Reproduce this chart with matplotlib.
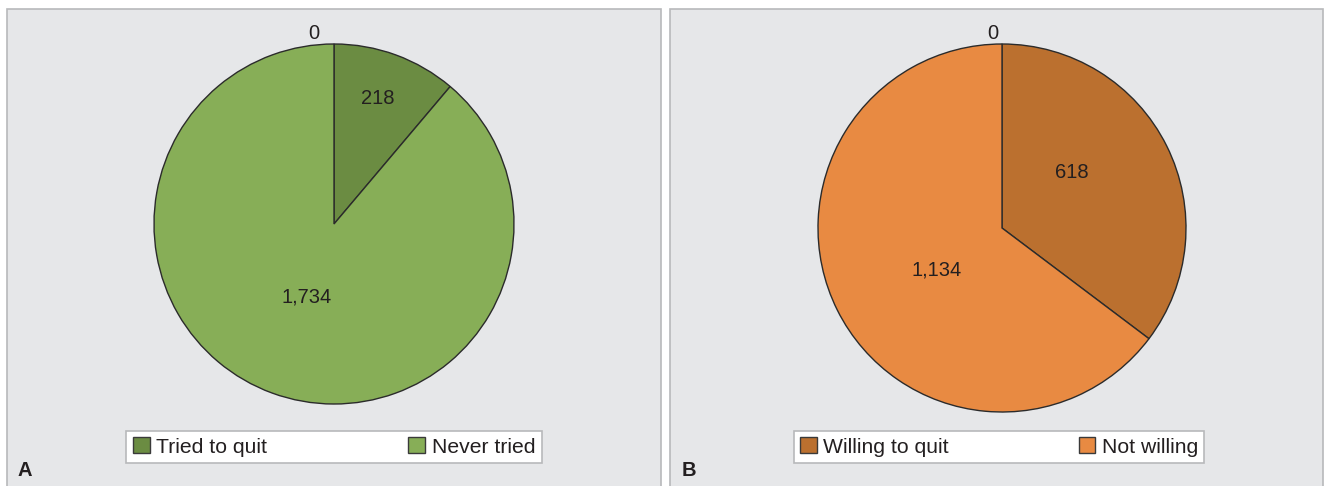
import matplotlib.pyplot as plt
from matplotlib.patches import Rectangle

plt.rcParams["font.family"] = ["Liberation Sans", "DejaVu Sans"]

# data
labels_a = ["Tried to quit", "Never tried"]
values_a = [218, 1734]
labels_b = ["Willing to quit", "Not willing"]
values_b = [618, 1134]
zero_label = "0"

colors_a = ["#6b8c42", "#87ae57"]
colors_b = ["#bb702f", "#e88a42"]

# label spots (pie units) for the value texts, then the zero label
spots_a = [(0.244, 0.70), (-0.15, -0.405), (-0.11, 1.06)]
spots_b = [(0.38, 0.30), (-0.353, -0.228), (-0.05, 1.055)]

W, H = 1325, 486
fig = plt.figure(figsize=(W / 100, H / 100), dpi=100)
fig.patch.set_facecolor("white")


def px(left, top, width, height):
    return [left / W, 1 - (top + height) / H, width / W, height / H]


def panel(left, right, letter, letter_x):
    bg = Rectangle((left / W, -0.05), (right - left) / W, 1.05 - 9 / H,
                   transform=fig.transFigure, facecolor="#e6e7e9",
                   edgecolor="#b8b9bb", linewidth=1.2, zorder=-5)
    fig.patches.append(bg)
    fig.text(letter_x / W, 1 - 470 / H, letter, fontsize=14.5, fontweight="bold",
             color="#231f20", va="center", ha="left")


def draw_pie(rect, values, labels, colors, spots, legend_center, colspace):
    ax = fig.add_axes(rect)
    ax.set_zorder(2)
    wedges, _ = ax.pie(values, colors=colors, startangle=90, counterclock=False,
                       wedgeprops={"edgecolor": "#2b2b2b", "linewidth": 1.0})
    ax.set_xlim(-1, 1)
    ax.set_ylim(-1, 1)
    ax.set_aspect("equal")
    ax.axis("off")
    texts = [f"{v:,}" for v in values] + [zero_label]
    for t, (x, y) in zip(texts, spots):
        ax.text(x, y, t, ha="center", va="center", fontsize=14.5, color="#231f20",
                clip_on=False)
    leg = fig.legend(wedges, labels, loc="center",
                     bbox_to_anchor=(legend_center[0] / W, 1 - legend_center[1] / H),
                     ncol=2, fontsize=15.2, frameon=True, fancybox=False,
                     framealpha=1, facecolor="white",
                     handlelength=0.8, handleheight=0.8, handletextpad=0.3,
                     columnspacing=colspace, borderpad=0.3, borderaxespad=0)
    leg.set_zorder(3)
    leg.get_frame().set_edgecolor("#b8b9bb")
    leg.get_frame().set_linewidth(1.2)
    for h in leg.legend_handles:
        h.set_edgecolor("#3a3a3a")
    for t in leg.get_texts():
        t.set_color("#231f20")


panel(7, 661, "A", 18)
panel(670, 1323, "B", 682)

draw_pie(px(154, 44, 360, 360), values_a, labels_a, colors_a, spots_a, (334, 447), 6.7)
draw_pie(px(818, 44, 368, 368), values_b, labels_b, colors_b, spots_b, (999, 447), 6.15)

fig.savefig("out.png", dpi=100, facecolor=fig.get_facecolor())
